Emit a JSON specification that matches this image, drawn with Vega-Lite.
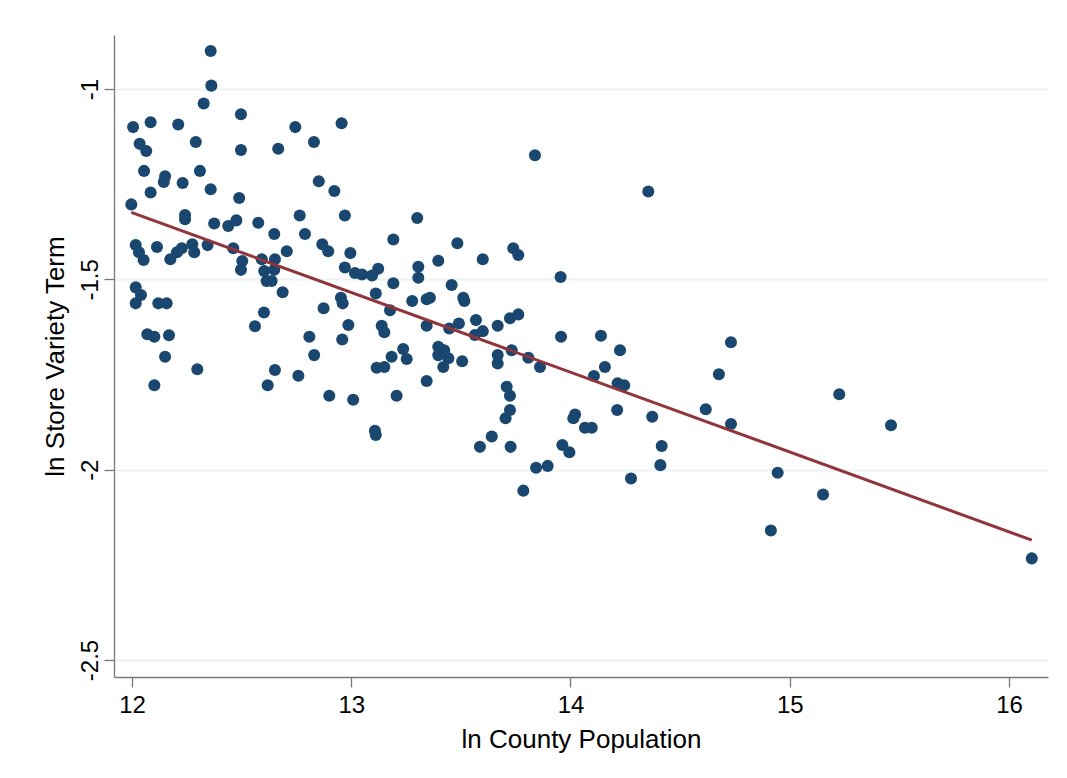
{
  "$schema": "https://vega.github.io/schema/vega-lite/v6.json",
  "width": 934,
  "height": 642,
  "autosize": {"type": "none"},
  "padding": {"left": 114, "top": 35, "right": 19, "bottom": 101},
  "background": "white",
  "config": {"view": {"stroke": null}, "font": "Liberation Sans"},
  "datasets": {
    "counties": [
      {"pop": 12.359, "variety": -0.900}, {"pop": 12.362, "variety": -0.991}, {"pop": 12.327, "variety": -1.038},
      {"pop": 12.497, "variety": -1.066}, {"pop": 12.005, "variety": -1.100}, {"pop": 12.085, "variety": -1.087},
      {"pop": 12.211, "variety": -1.093}, {"pop": 12.745, "variety": -1.100}, {"pop": 12.956, "variety": -1.090},
      {"pop": 12.035, "variety": -1.144}, {"pop": 12.065, "variety": -1.163}, {"pop": 12.291, "variety": -1.139},
      {"pop": 12.497, "variety": -1.160}, {"pop": 12.667, "variety": -1.157}, {"pop": 12.830, "variety": -1.139},
      {"pop": 12.055, "variety": -1.215}, {"pop": 12.151, "variety": -1.229}, {"pop": 12.145, "variety": -1.244},
      {"pop": 12.231, "variety": -1.247}, {"pop": 12.310, "variety": -1.215}, {"pop": 12.852, "variety": -1.242},
      {"pop": 12.923, "variety": -1.268}, {"pop": 12.085, "variety": -1.272}, {"pop": 12.359, "variety": -1.263},
      {"pop": 12.489, "variety": -1.286}, {"pop": 11.997, "variety": -1.303}, {"pop": 12.242, "variety": -1.331},
      {"pop": 12.242, "variety": -1.342}, {"pop": 12.375, "variety": -1.353}, {"pop": 12.439, "variety": -1.360},
      {"pop": 12.476, "variety": -1.345}, {"pop": 12.576, "variety": -1.351}, {"pop": 12.649, "variety": -1.381},
      {"pop": 12.765, "variety": -1.332}, {"pop": 12.789, "variety": -1.381}, {"pop": 12.971, "variety": -1.332},
      {"pop": 12.017, "variety": -1.410}, {"pop": 12.032, "variety": -1.429}, {"pop": 12.053, "variety": -1.449},
      {"pop": 12.114, "variety": -1.415}, {"pop": 12.175, "variety": -1.447}, {"pop": 12.205, "variety": -1.429},
      {"pop": 12.227, "variety": -1.418}, {"pop": 12.275, "variety": -1.408}, {"pop": 12.284, "variety": -1.429},
      {"pop": 12.345, "variety": -1.410}, {"pop": 12.462, "variety": -1.418}, {"pop": 12.503, "variety": -1.452},
      {"pop": 12.592, "variety": -1.447}, {"pop": 12.652, "variety": -1.447}, {"pop": 12.706, "variety": -1.426},
      {"pop": 12.868, "variety": -1.408}, {"pop": 12.895, "variety": -1.426}, {"pop": 12.996, "variety": -1.431},
      {"pop": 12.497, "variety": -1.475}, {"pop": 12.603, "variety": -1.478}, {"pop": 12.649, "variety": -1.475},
      {"pop": 12.614, "variety": -1.504}, {"pop": 12.637, "variety": -1.504}, {"pop": 12.687, "variety": -1.534},
      {"pop": 12.971, "variety": -1.469}, {"pop": 13.017, "variety": -1.483}, {"pop": 13.049, "variety": -1.487},
      {"pop": 13.095, "variety": -1.490}, {"pop": 13.123, "variety": -1.472}, {"pop": 12.017, "variety": -1.521},
      {"pop": 12.041, "variety": -1.541}, {"pop": 12.017, "variety": -1.563}, {"pop": 12.120, "variety": -1.563},
      {"pop": 12.158, "variety": -1.563}, {"pop": 12.602, "variety": -1.587}, {"pop": 12.561, "variety": -1.623},
      {"pop": 12.874, "variety": -1.576}, {"pop": 12.953, "variety": -1.548}, {"pop": 12.961, "variety": -1.563},
      {"pop": 12.987, "variety": -1.620}, {"pop": 12.959, "variety": -1.658}, {"pop": 12.809, "variety": -1.651},
      {"pop": 12.831, "variety": -1.699}, {"pop": 12.070, "variety": -1.644}, {"pop": 12.102, "variety": -1.651},
      {"pop": 12.169, "variety": -1.647}, {"pop": 12.151, "variety": -1.703}, {"pop": 12.298, "variety": -1.736},
      {"pop": 12.102, "variety": -1.778}, {"pop": 12.652, "variety": -1.738}, {"pop": 12.619, "variety": -1.778},
      {"pop": 12.759, "variety": -1.753}, {"pop": 12.900, "variety": -1.806}, {"pop": 13.009, "variety": -1.816},
      {"pop": 13.838, "variety": -1.174}, {"pop": 13.301, "variety": -1.339}, {"pop": 13.192, "variety": -1.395},
      {"pop": 13.484, "variety": -1.405}, {"pop": 13.739, "variety": -1.418}, {"pop": 13.762, "variety": -1.436},
      {"pop": 13.397, "variety": -1.451}, {"pop": 13.600, "variety": -1.447}, {"pop": 13.306, "variety": -1.467},
      {"pop": 13.306, "variety": -1.496}, {"pop": 13.192, "variety": -1.510}, {"pop": 13.458, "variety": -1.515},
      {"pop": 13.955, "variety": -1.494}, {"pop": 13.112, "variety": -1.537}, {"pop": 13.278, "variety": -1.557},
      {"pop": 13.344, "variety": -1.552}, {"pop": 13.359, "variety": -1.548}, {"pop": 13.511, "variety": -1.548},
      {"pop": 13.516, "variety": -1.557}, {"pop": 13.177, "variety": -1.581}, {"pop": 13.344, "variety": -1.622},
      {"pop": 13.139, "variety": -1.622}, {"pop": 13.151, "variety": -1.639}, {"pop": 13.447, "variety": -1.629},
      {"pop": 13.491, "variety": -1.616}, {"pop": 13.569, "variety": -1.607}, {"pop": 13.564, "variety": -1.646},
      {"pop": 13.600, "variety": -1.636}, {"pop": 13.668, "variety": -1.622}, {"pop": 13.724, "variety": -1.602},
      {"pop": 13.762, "variety": -1.592}, {"pop": 13.957, "variety": -1.651}, {"pop": 14.139, "variety": -1.648},
      {"pop": 14.157, "variety": -1.730}, {"pop": 13.397, "variety": -1.677}, {"pop": 13.424, "variety": -1.686},
      {"pop": 13.397, "variety": -1.699}, {"pop": 13.443, "variety": -1.707}, {"pop": 13.420, "variety": -1.730},
      {"pop": 13.237, "variety": -1.683}, {"pop": 13.253, "variety": -1.709}, {"pop": 13.184, "variety": -1.703},
      {"pop": 13.116, "variety": -1.732}, {"pop": 13.151, "variety": -1.730}, {"pop": 13.506, "variety": -1.715},
      {"pop": 13.668, "variety": -1.699}, {"pop": 13.668, "variety": -1.721}, {"pop": 13.732, "variety": -1.686},
      {"pop": 13.808, "variety": -1.706}, {"pop": 13.861, "variety": -1.730}, {"pop": 14.107, "variety": -1.754},
      {"pop": 13.344, "variety": -1.767}, {"pop": 13.207, "variety": -1.806}, {"pop": 13.709, "variety": -1.782},
      {"pop": 13.724, "variety": -1.806}, {"pop": 13.724, "variety": -1.843}, {"pop": 13.704, "variety": -1.865},
      {"pop": 13.108, "variety": -1.898}, {"pop": 13.112, "variety": -1.909}, {"pop": 13.641, "variety": -1.913},
      {"pop": 13.587, "variety": -1.940}, {"pop": 13.727, "variety": -1.940}, {"pop": 14.021, "variety": -1.855},
      {"pop": 14.013, "variety": -1.865}, {"pop": 14.066, "variety": -1.890}, {"pop": 14.097, "variety": -1.890},
      {"pop": 13.963, "variety": -1.935}, {"pop": 13.995, "variety": -1.954}, {"pop": 13.843, "variety": -1.995},
      {"pop": 13.896, "variety": -1.990}, {"pop": 13.785, "variety": -2.055}, {"pop": 14.355, "variety": -1.269},
      {"pop": 14.226, "variety": -1.686}, {"pop": 14.732, "variety": -1.665}, {"pop": 14.215, "variety": -1.773},
      {"pop": 14.245, "variety": -1.778}, {"pop": 14.677, "variety": -1.749}, {"pop": 15.226, "variety": -1.802},
      {"pop": 15.462, "variety": -1.883}, {"pop": 14.213, "variety": -1.843}, {"pop": 14.373, "variety": -1.861},
      {"pop": 14.617, "variety": -1.841}, {"pop": 14.732, "variety": -1.880}, {"pop": 14.416, "variety": -1.938},
      {"pop": 14.410, "variety": -1.988}, {"pop": 14.276, "variety": -2.023}, {"pop": 14.945, "variety": -2.008},
      {"pop": 15.152, "variety": -2.065}, {"pop": 14.914, "variety": -2.160}, {"pop": 16.104, "variety": -2.233}
    ],
    "fit": [
      {"pop": 11.997, "variety": -1.324},
      {"pop": 16.104, "variety": -2.185}
    ]
  },
  "encoding": {
    "x": {
      "field": "pop",
      "type": "quantitative",
      "scale": {"domain": [11.918, 16.178], "nice": false, "zero": false},
      "axis": {
        "values": [12, 13, 14, 15, 16],
        "grid": false,
        "title": "ln County Population",
        "domainColor": "#777777",
        "domainWidth": 1.3,
        "tickColor": "#777777",
        "tickWidth": 1.3,
        "tickSize": 10,
        "labelFontSize": 24,
        "labelColor": "#000000",
        "labelPadding": 6,
        "labelFlush": false,
        "titleFontSize": 26,
        "titleFontWeight": "normal",
        "titleColor": "#000000",
        "titlePadding": 9
      }
    },
    "y": {
      "field": "variety",
      "type": "quantitative",
      "scale": {"domain": [-2.5446, -0.858], "nice": false, "zero": false},
      "axis": {
        "values": [-1, -1.5, -2, -2.5],
        "grid": true,
        "gridColor": "#eaf2f3",
        "gridWidth": 2,
        "title": "ln Store Variety Term",
        "domainColor": "#777777",
        "domainWidth": 1.3,
        "tickColor": "#777777",
        "tickWidth": 1.3,
        "tickSize": 10,
        "labelFontSize": 24,
        "labelColor": "#000000",
        "labelAngle": -90,
        "labelAlign": "center",
        "labelBaseline": "alphabetic",
        "labelPadding": 7,
        "labelFlush": false,
        "labelExpr": "replace(format(datum.value, '~g'), '\u2212', '-')",
        "titleFontSize": 26,
        "titleFontWeight": "normal",
        "titleColor": "#000000",
        "titlePadding": 10
      }
    }
  },
  "layer": [
    {
      "data": {"name": "counties"},
      "mark": {"type": "point", "shape": "circle", "filled": true, "size": 145, "color": "#1a476f", "opacity": 1}
    },
    {
      "data": {"name": "fit"},
      "mark": {"type": "line", "color": "#90353b", "strokeWidth": 3}
    }
  ]
}
